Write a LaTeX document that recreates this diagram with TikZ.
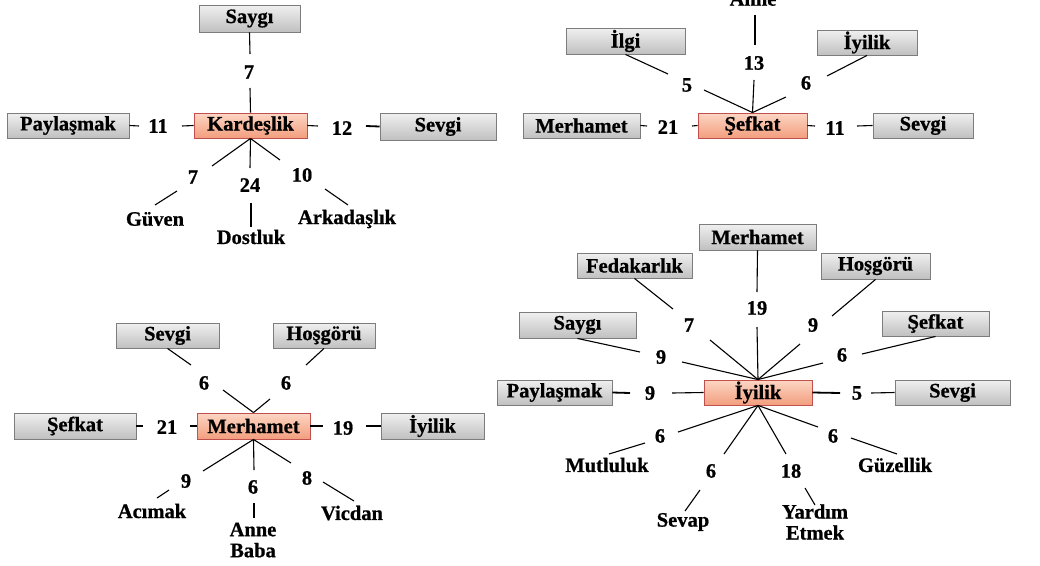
\documentclass[tikz,border=0pt]{standalone}
\usepackage{fontspec}
\setmainfont{Liberation Serif}[BoldFeatures={FakeBold=0.8}]
\begin{document}
\begin{tikzpicture}[x=1pt,y=-1pt,
  lbf/.style={font=\bfseries\fontsize{20.5}{23}\selectfont},
  gbox/.style={lbf,draw=gborder,line width=0.9pt,top color=gtop,bottom color=gbot,minimum height=26,inner sep=0pt},
  cbox/.style={lbf,draw=cborder,line width=0.9pt,top color=ctop,bottom color=cbot,minimum height=26,inner sep=0pt},
  num/.style={lbf,inner sep=0pt},
  lab/.style={lbf,inner sep=0pt,align=center},
  ln/.style={line width=1.1pt},
  tk/.style={line width=1.8pt}]
\definecolor{gborder}{RGB}{125,125,125}
\definecolor{gtop}{RGB}{240,240,240}
\definecolor{gbot}{RGB}{192,192,192}
\definecolor{cborder}{RGB}{192,80,77}
\definecolor{ctop}{RGB}{252,214,196}
\definecolor{cbot}{RGB}{243,158,126}
\useasboundingbox[fill=white] (0,0) rectangle (1040,565);

% ===== Diagram 1: Kardeşlik =====
\node[gbox,minimum width=101,minimum height=27] (a1) at (249.5,18.5) {Saygı};
\node[cbox,minimum width=113,minimum height=25] (K) at (250.5,125.5) {Kardeşlik};
\node[gbox,minimum width=122,minimum height=25] (a2) at (68,125.5) {Paylaşmak};
\node[gbox,minimum width=116,minimum height=27] (a3) at (438,126.5) {Sevgi};
\node[num] (k1) at (249,72) {7};
\node[num] (k2) at (158,126) {11};
\node[num] (k3) at (342,128) {12};
\node[num] (k4) at (193,177) {7};
\node[num] (k5) at (250,185) {24};
\node[num] (k6) at (302,175) {10};
\node[lab] (t1) at (155,219) {Güven};
\node[lab] (t2) at (251,237) {Dostluk};
\node[lab] (t3) at (347,219) {Arkadaşlık};
\draw[ln] (a1.south) -- (250,54);
\draw[ln] (250,88) -- (K.north);
\draw[ln] (a2.east) -- (139,126);
\draw[ln] (182,126) -- (K.west);
\draw[ln] (K.east) -- (318,126);
\draw[tk] (366,126) -- (a3.west);
\draw[ln] (K.south) -- (212,166);
\draw[ln] (K.south) -- (250,168);
\draw[ln] (K.south) -- (280,160);
\draw[ln] (177,191) -- (155,205);
\draw[ln] (251,203) -- (251,227);
\draw[ln] (325,189) -- (348,205);

% ===== Diagram 2: Şefkat =====
\node[lab] (s0) at (753,-1) {Anne};
\node[gbox,minimum width=119] (b1) at (625.5,41) {İlgi};
\node[gbox,minimum width=100,minimum height=25] (b2) at (867,42.5) {İyilik};
\node[cbox,minimum width=109,minimum height=25] (S) at (752.5,125.5) {Şefkat};
\node[gbox,minimum width=117,minimum height=25] (b3) at (581.5,125.5) {Merhamet};
\node[gbox,minimum width=100,minimum height=25] (b4) at (923,125.5) {Sevgi};
\node[num] (s1) at (754,63) {13};
\node[num] (s2) at (687,85) {5};
\node[num] (s3) at (806,83) {6};
\node[num] (s4) at (668,127) {21};
\node[num] (s5) at (835,128) {11};
\draw[ln] (755,15) -- (755,45);
\draw[ln] (754,80) -- (S.north);
\draw[ln] (b1.south) -- (668,74);
\draw[ln] (704,90) -- (S.north);
\draw[ln] (b2.south) -- (827,76);
\draw[ln] (786,97) -- (S.north);
\draw[ln] (b3.east) -- (647,126);
\draw[ln] (692,126) -- (S.west);
\draw[ln] (S.east) -- (815,126);
\draw[ln] (857,126) -- (b4.west);

% ===== Diagram 3: Merhamet =====
\node[gbox,minimum width=103,minimum height=25] (c1) at (167.5,335.5) {Sevgi};
\node[gbox,minimum width=102,minimum height=25] (c2) at (324,335.5) {Hoşgörü};
\node[cbox,minimum width=113] (M) at (253.5,426) {Merhamet};
\node[gbox,minimum width=122] (c3) at (75,426) {Şefkat};
\node[gbox,minimum width=103] (c4) at (432.5,426) {İyilik};
\node[num] (m1) at (204,383) {6};
\node[num] (m2) at (286,383) {6};
\node[num] (m3) at (167,427) {21};
\node[num] (m4) at (343,428) {19};
\node[num] (m5) at (186,481) {9};
\node[num] (m6) at (253,487) {6};
\node[num] (m7) at (307,478) {8};
\node[lab] (u1) at (152,511) {Acımak};
\node[lab] (u2) at (253,540) {Anne\\[-2pt]Baba};
\node[lab] (u3) at (352,513) {Vicdan};
\draw[ln] (c1.south) -- (191,365);
\draw[ln] (223,390) -- (M.north);
\draw[ln] (c2.south) -- (306,365);
\draw[ln] (270,399) -- (M.north);
\draw[ln] (c3.east) -- (143,426);
\draw[ln] (190,426) -- (M.west);
\draw[ln] (M.east) -- (323,426);
\draw[ln] (366,426) -- (c4.west);
\draw[ln] (M.south) -- (203,471);
\draw[ln] (M.south) -- (254,470);
\draw[ln] (M.south) -- (291,463);
\draw[ln] (169,490) -- (157,498);
\draw[ln] (254,503) -- (254,518);
\draw[ln] (323,482) -- (354,501);

% ===== Diagram 4: İyilik =====
\node[gbox,minimum width=117] (d1) at (757.5,237) {Merhamet};
\node[gbox,minimum width=115,minimum height=25] (d2) at (634.5,265.5) {Fedakarlık};
\node[gbox,minimum width=109] (d3) at (875.5,266) {Hoşgörü};
\node[gbox,minimum width=117] (d4) at (577.5,325) {Saygı};
\node[gbox,minimum width=107,minimum height=25] (d5) at (935.5,323.5) {Şefkat};
\node[gbox,minimum width=115,minimum height=25] (d6) at (554.5,392.5) {Paylaşmak};
\node[gbox,minimum width=115,minimum height=25] (d7) at (952.5,392.5) {Sevgi};
\node[cbox,minimum width=108,minimum height=25] (I) at (758,392.5) {İyilik};
\node[num] (i1) at (757,308) {19};
\node[num] (i2) at (689,325) {7};
\node[num] (i3) at (813,325) {9};
\node[num] (i4) at (661,357) {9};
\node[num] (i5) at (842,355) {6};
\node[num] (i6) at (650,393) {9};
\node[num] (i7) at (857,393) {5};
\node[num] (i8) at (660,436) {6};
\node[num] (i9) at (711,471) {6};
\node[num] (i10) at (791,471) {18};
\node[num] (i11) at (833,436) {6};
\node[lab] (v1) at (607,465) {Mutluluk};
\node[lab] (v2) at (683,522) {Sevap};
\node[lab] (v3) at (815,522) {Yardım\\[-2pt]Etmek};
\node[lab] (v4) at (895,465) {Güzellik};
\draw[ln] (d1.south) -- (757,292);
\draw[ln] (757,327) -- (I.north);
\draw[ln] (d2.south) -- (673,309);
\draw[ln] (710,340) -- (I.north);
\draw[ln] (d3.south) -- (832,316);
\draw[ln] (800,344) -- (I.north);
\draw[ln] (d4.south) -- (640,352);
\draw[ln] (682,362) -- (I.north);
\draw[ln] (d5.south) -- (862,354);
\draw[ln] (823,363) -- (I.north);
\draw[tk] (d6.east) -- (630,393);
\draw[ln] (672,393) -- (I.west);
\draw[tk] (I.east) -- (840,393);
\draw[ln] (871,393) -- (d7.west);
\draw[ln] (I.south) -- (678,432);
\draw[ln] (I.south) -- (724,454);
\draw[ln] (I.south) -- (786,454);
\draw[ln] (I.south) -- (818,427);
\draw[ln] (645,443) -- (609,454);
\draw[ln] (700,490) -- (685,511);
\draw[ln] (805,488) -- (815,505);
\draw[ln] (851,438) -- (897,454);
\end{tikzpicture}
\end{document}
